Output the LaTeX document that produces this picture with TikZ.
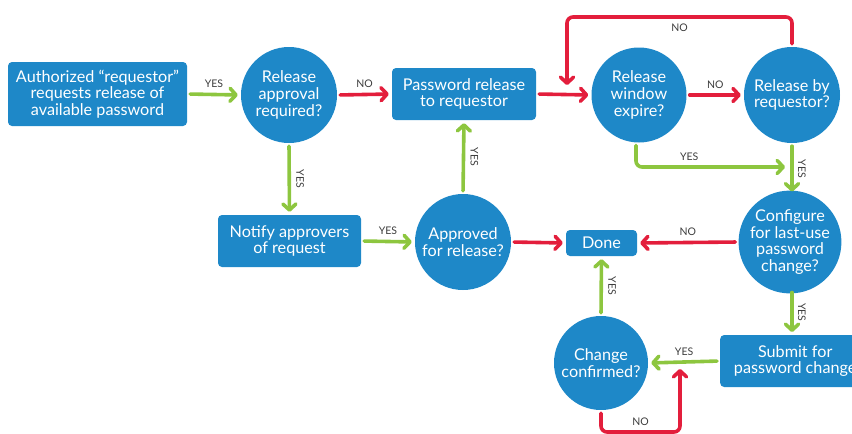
\documentclass[tikz,border=0pt]{standalone}
\usepackage{fontspec}
\setmainfont{Lato}
\usetikzlibrary{arrows.meta,calc}
\definecolor{cblue}{RGB}{30,136,200}
\definecolor{cgreen}{RGB}{141,198,63}
\definecolor{cred}{RGB}{227,30,60}
\definecolor{clab}{RGB}{60,60,60}
\tikzset{
  boxn/.style={fill=cblue, rounded corners=4pt, text=white, align=center, font=\fontsize{16.2}{16.8}\selectfont, inner sep=0pt},
  circn/.style={circle, fill=cblue, text=white, align=center, font=\fontsize{16.2}{16.8}\selectfont, inner sep=0pt},
  garr/.style={draw=cgreen, line width=3.6pt, line cap=round, -{Straight Barb[round,length=6pt,width=13pt]}, rounded corners=6pt, shorten <=3pt, shorten >=3pt},
  rarr/.style={draw=cred, line width=3.6pt, line cap=round, -{Straight Barb[round,length=6pt,width=13pt]}, rounded corners=6pt, shorten <=3pt, shorten >=3pt},
  lab/.style={text=clab, font=\fontsize{10.5}{11}\selectfont, inner sep=0pt},
  vlab/.style={lab, rotate=-90},
}
\begin{document}
\begin{tikzpicture}[x=1pt,y=-1pt]
\useasboundingbox (0,0) rectangle (852,434);
\begin{scope}
\clip (0,0) rectangle (852,434);
% nodes
\node[boxn, minimum width=179pt, minimum height=64pt] (A) at (97.5,94) {Authorized “requestor”\\requests release of\\available password};
\node[circn, minimum size=96pt] (B) at (289,95) {Release\\approval\\required?};
\node[boxn, minimum width=144pt, minimum height=52pt] (C) at (464,94) {Password release\\to requestor};
\node[circn, minimum size=95pt] (D) at (639,95) {Release\\window\\expire?};
\node[circn, minimum size=96pt] (E) at (792,95) {Release by\\requestor?};
\node[boxn, minimum width=143pt, minimum height=52pt] (F) at (289.5,241) {Notify approvers\\of request};
\node[circn, minimum size=96pt] (G) at (463,242) {Approved\\for release?};
\node[boxn, minimum width=71pt, minimum height=26pt] (H) at (601.5,243) {Done};
\node[circn, minimum size=95pt] (I) at (790,242) {Configure\\for last-use\\password\\change?};
\node[boxn, minimum width=150pt, minimum height=52pt, anchor=west] (J) at (720,361) {Submit for\\password change};
\node[circn, minimum size=94pt] (K) at (601,363) {Change\\confirmed?};
% connectors
\draw[garr] (A.east) -- (B.west) node[lab, midway, above=5pt] {YES};
\draw[rarr] (B.east) -- (C.west) node[lab, midway, above=5pt] {NO};
\draw[garr] (B.south) -- (F.north);
\node[vlab] at ($(B.south)!0.5!(F.north)+(11,0)$) {YES};
\draw[garr] (F.east) -- (G.west) node[lab, midway, above=5pt] {YES};
\draw[garr] (G.north) -- (C.south);
\node[vlab] at ($(G.north)!0.5!(C.south)+(11,0)$) {YES};
\draw[rarr] (G.east) -- (H.west);
\draw[rarr] (C.east) -- (D.west);
\draw[rarr] (D.east) -- (E.west) node[lab, midway, above=5pt] {NO};
\coordinate (Lend) at (567,88);
\draw[rarr] (E.north) -- (792,17) -- node[lab, below=5pt, pos=0.5] {NO} (567,17) -- (Lend);
\coordinate (Dend) at (788,167);
\draw[garr] (636,142.5) -- (636,167) -- node[lab, above=5pt, pos=0.35] {YES} (Dend);
\coordinate (Iin) at (792,194.5);
\draw[garr] (E.south) -- (Iin);
\node[vlab] at ($(E.south)!0.5!(Iin)+(10,0)$) {YES};
\coordinate (Iout) at (792,289.5);
\coordinate (Jin) at (792,335);
\draw[garr] (Iout) -- (Jin);
\node[vlab] at ($(Iout)!0.5!(Jin)+(10,0)$) {YES};
\draw[rarr] (I.west) -- (H.east) node[lab, midway, above=5pt] {NO};
\draw[garr] (J.west) -- (K.east) node[lab, midway, above=5pt] {YES};
\draw[garr] (K.north) -- (H.south);
\node[vlab] at ($(K.north)!0.5!(H.south)+(11,0)$) {YES};
\coordinate (Kend) at (680,366);
\draw[rarr] (K.south) -- (601,432) -- node[lab, above=5pt, pos=0.5] {NO} (680,432) -- (Kend);
\end{scope}
\end{tikzpicture}
\end{document}
